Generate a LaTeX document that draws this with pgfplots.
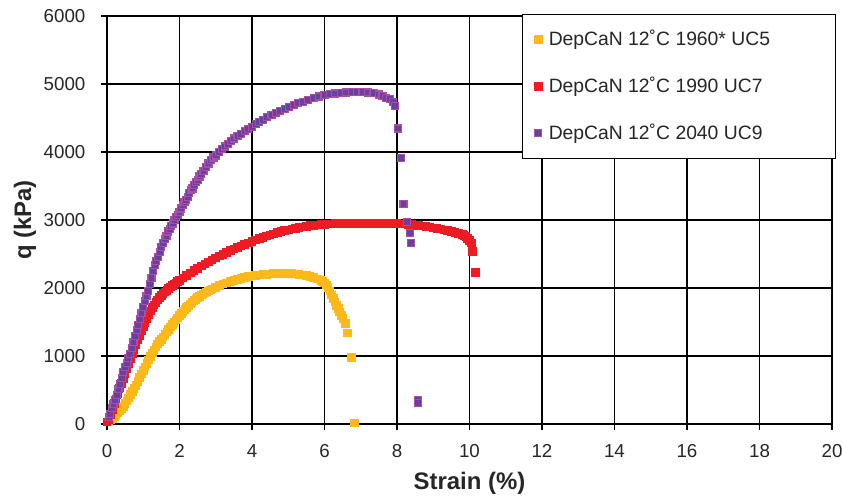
\documentclass[border=0pt]{standalone}
\usepackage{fontspec}
\setmainfont{Liberation Sans}
\usepackage{pgfplots}
\pgfplotsset{compat=1.18}
\definecolor{cOrange}{RGB}{252,185,25}
\definecolor{cRed}{RGB}{237,28,36}
\definecolor{cPurpleF}{RGB}{104,64,158}
\definecolor{cPurpleE}{RGB}{168,78,168}
\begin{document}
\begin{tikzpicture}
\path[use as bounding box] (-53.5bp,-36.5bp) rectangle (367.5bp,212bp);
\begin{axis}[
  at={(0,0)}, anchor=south west,
  scale only axis, width=362.5bp, height=204bp,
  xmin=0, xmax=20, ymin=0, ymax=6000,
  xtick={0,2,...,20}, ytick={0,1000,...,6000},
  scaled ticks=false,
  /pgf/number format/1000 sep={},
  /pgf/number format/assume math mode=true,
  grid=major,
  major grid style={black, line width=0.6bp},
  axis line style={black, line width=0.6bp},
  tick style={black, line width=0.6bp},
  tick align=outside, major tick length=2.8bp,
  xtick pos=bottom, ytick pos=left,
  xticklabel style={font=\fontsize{9.4}{10}\selectfont, text=black!85, yshift=-4bp},
  yticklabel style={font=\fontsize{9.4}{10}\selectfont, text=black!85, xshift=-4.5bp},
  xlabel={Strain (\%)},
  ylabel={q (kPa)},
  every axis x label/.style={at={(axis description cs:0.5,0)}, yshift=-29.5bp, anchor=center, font=\fontsize{12}{14}\selectfont\bfseries, text=black!85},
  every axis y label/.style={at={(axis description cs:0,0.5)}, xshift=-41bp, rotate=90, anchor=center, font=\fontsize{12}{14}\selectfont\bfseries, text=black!85},
  clip=false,
  legend image code/.code={\draw[#1] plot coordinates {(0bp,0bp)};},
  legend cell align=left,
  legend style={at={(rel axis cs:0.5724,1.005)}, anchor=north west,
    draw=black, line width=0.6bp, fill=white,
    font=\fontsize{9.7}{11}\selectfont, text=black!85,
    inner xsep=6bp, inner ysep=6.8bp,
    nodes={inner sep=1bp},
    row sep=12.2bp, column sep=2.3bp},
]
\addplot[only marks, mark=square*, mark size=1.9bp, mark options={draw=cOrange, fill=cOrange, line width=0bp}] coordinates {
(0,30)(0.05,45)(0.1,60)(0.15,80)(0.2,105)(0.25,130)(0.3,160)(0.35,190)(0.4,225)(0.45,260)
(0.5,300)(0.55,340)(0.6,385)(0.65,430)(0.7,475)(0.75,520)(0.8,570)(0.85,625)(0.9,680)(0.95,735)
(1.0,790)(1.05,840)(1.1,890)(1.15,940)(1.2,995)(1.25,1045)(1.3,1090)(1.35,1135)(1.4,1175)(1.45,1210)
(1.5,1245)(1.55,1280)(1.6,1320)(1.65,1355)(1.7,1390)(1.75,1425)(1.8,1460)(1.85,1495)(1.9,1528)(1.95,1560)
(2.0,1592)(2.05,1622)(2.1,1652)(2.15,1682)(2.2,1710)(2.25,1737)(2.3,1763)(2.35,1788)(2.4,1812)(2.45,1835)
(2.5,1857)(2.55,1877)(2.6,1896)(2.65,1913)(2.7,1929)(2.75,1944)(2.8,1958)(2.85,1972)(2.9,1985)(3.0,2010)
(3.1,2035)(3.2,2057)(3.3,2075)(3.4,2093)(3.5,2110)(3.6,2127)(3.7,2142)(3.8,2155)(3.9,2166)(4.0,2176)
(4.1,2185)(4.2,2192)(4.3,2198)(4.4,2203)(4.5,2207)(4.6,2210)(4.7,2211)(4.8,2212)(4.9,2212)(5.0,2211)
(5.1,2210)(5.2,2205)(5.3,2198)(5.4,2190)(5.5,2180)(5.6,2168)(5.7,2152)(5.8,2134)(5.9,2112)(5.95,2095)
(6.0,2075)(6.05,2045)(6.1,2005)(6.15,1955)(6.2,1900)(6.24,1850)(6.29,1795)(6.33,1744)(6.38,1695)(6.42,1646)
(6.47,1597)(6.51,1548)(6.58,1474)(6.64,1337)(6.75,980)(6.83,12)
};
\addlegendentry{\makebox[136.5bp][l]{DepCaN 12˚C 1960* UC5}}
\addplot[only marks, mark=square*, mark size=1.9bp, mark options={draw=cRed, fill=cRed, line width=0bp}] coordinates {
(0,30)(0.05,70)(0.1,140)(0.15,210)(0.2,300)(0.25,370)(0.3,450)(0.35,530)(0.4,600)(0.45,670)
(0.5,740)(0.55,810)(0.6,885)(0.65,955)(0.7,1030)(0.75,1100)(0.8,1170)(0.85,1240)(0.9,1305)(0.95,1370)
(1.0,1435)(1.05,1495)(1.1,1555)(1.15,1610)(1.2,1660)(1.25,1710)(1.3,1752)(1.35,1790)(1.4,1825)(1.45,1858)
(1.5,1888)(1.55,1915)(1.6,1942)(1.65,1967)(1.7,1990)(1.75,2012)(1.8,2034)(1.85,2055)(1.9,2075)(1.95,2095)
(2.0,2114)(2.1,2150)(2.2,2187)(2.3,2222)(2.4,2257)(2.5,2290)(2.6,2322)(2.7,2353)(2.8,2383)(2.9,2413)
(3.0,2442)(3.1,2470)(3.2,2497)(3.3,2523)(3.4,2548)(3.5,2573)(3.6,2597)(3.7,2620)(3.8,2642)(3.9,2663)
(4.0,2684)(4.1,2704)(4.2,2724)(4.3,2743)(4.4,2762)(4.5,2780)(4.6,2797)(4.7,2813)(4.8,2828)(4.9,2842)
(5.0,2855)(5.1,2867)(5.2,2878)(5.3,2888)(5.4,2898)(5.5,2907)(5.6,2915)(5.7,2922)(5.8,2928)(5.9,2933)
(6.0,2937)(6.1,2940)(6.2,2943)(6.3,2945)(6.4,2947)(6.5,2949)(6.6,2950)(6.7,2951)(6.8,2952)(6.9,2953)
(7.0,2953)(7.1,2953)(7.2,2953)(7.3,2953)(7.4,2952)(7.5,2951)(7.6,2950)(7.7,2949)(7.8,2948)(7.9,2946)
(8.0,2945)(8.1,2943)(8.2,2940)(8.3,2936)(8.4,2932)(8.5,2927)(8.6,2922)(8.7,2914)(8.8,2905)(8.9,2895)
(9.0,2885)(9.1,2875)(9.2,2865)(9.3,2855)(9.4,2845)(9.5,2833)(9.6,2820)(9.7,2805)(9.8,2785)(9.85,2770)
(9.9,2755)(9.95,2730)(10.0,2700)(10.05,2660)(10.08,2541)(10.16,2230)
};
\addlegendentry{\makebox[136.5bp][l]{DepCaN 12˚C 1990 UC7}}
\addplot[only marks, mark=square*, mark size=1.75bp, mark options={draw=cPurpleE, fill=cPurpleF, line width=0.6bp}] coordinates {
(0.05,100)(0.09,150)(0.14,230)(0.18,290)(0.23,350)(0.27,430)(0.32,510)(0.36,590)(0.41,680)(0.45,760)
(0.5,835)(0.55,900)(0.59,965)(0.64,1035)(0.68,1120)(0.73,1210)(0.77,1300)(0.82,1380)(0.86,1460)(0.91,1545)
(0.95,1630)(1.0,1720)(1.05,1810)(1.09,1880)(1.14,1960)(1.18,2060)(1.23,2150)(1.27,2250)(1.32,2340)(1.36,2400)
(1.41,2460)(1.46,2530)(1.5,2600)(1.55,2660)(1.59,2720)(1.64,2770)(1.68,2830)(1.73,2870)(1.77,2910)(1.82,2950)
(1.86,3000)(1.91,3040)(1.95,3073)(2.0,3120)(2.05,3170)(2.09,3220)(2.14,3260)(2.18,3300)(2.23,3341)(2.27,3400)
(2.32,3440)(2.36,3463)(2.41,3520)(2.45,3560)(2.5,3590)(2.55,3640)(2.6,3680)(2.66,3720)(2.73,3780)(2.8,3830)
(2.87,3880)(2.94,3920)(3.0,3950)(3.08,4000)(3.17,4040)(3.25,4080)(3.33,4120)(3.42,4160)(3.5,4200)(3.6,4240)
(3.7,4270)(3.8,4310)(3.9,4340)(4.0,4370)(4.1,4410)(4.2,4440)(4.3,4470)(4.42,4510)(4.54,4545)(4.66,4570)
(4.78,4600)(4.9,4630)(5.02,4660)(5.15,4690)(5.28,4715)(5.4,4740)(5.55,4770)(5.7,4795)(5.85,4815)(6.0,4833)
(6.15,4848)(6.3,4860)(6.45,4870)(6.6,4875)(6.75,4878)(6.9,4878)(7.05,4877)(7.2,4874)(7.35,4865)(7.5,4845)
(7.6,4825)(7.7,4800)(7.8,4775)(7.88,4740)(7.94,4680)(8.03,4347)(8.12,3915)(8.18,3240)(8.27,2975)(8.35,2814)
(8.39,2662)(8.57,354)(8.57,305)
};
\addlegendentry{\makebox[136.5bp][l]{DepCaN 12˚C 2040 UC9}}
\end{axis}
\end{tikzpicture}
\end{document}
